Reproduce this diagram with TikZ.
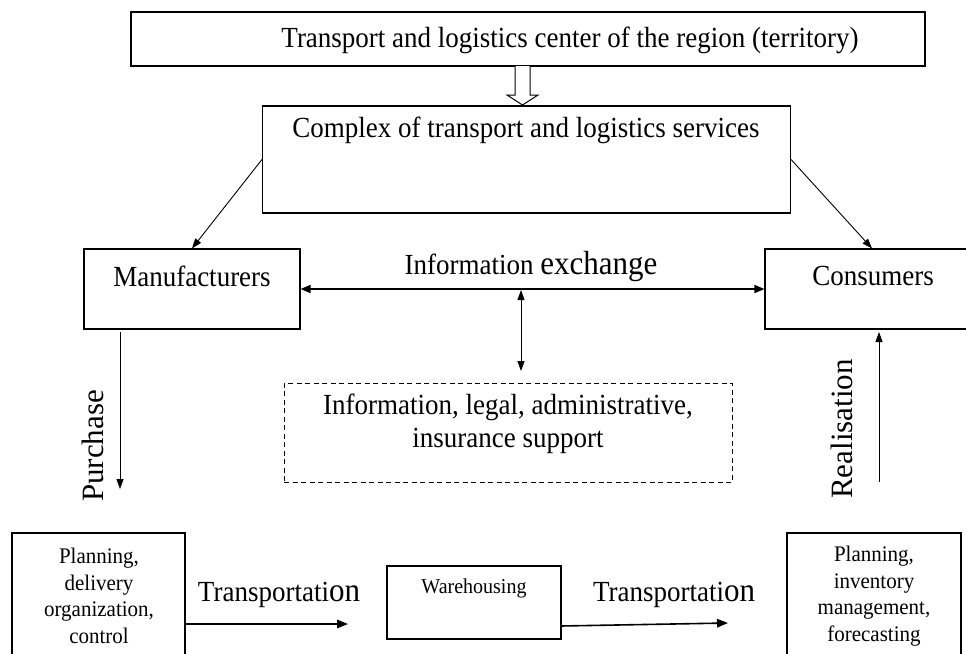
\documentclass[tikz,border=0pt]{standalone}
\usepackage{fontspec}
\setmainfont{Liberation Serif}
\usetikzlibrary{arrows.meta}
\begin{document}
\begin{tikzpicture}[x=1pt,y=-1pt,
  box/.style={draw, line width=1.1pt, inner sep=0pt, minimum width=#1},
  lbl/.style={inner sep=0pt, yscale=1.08, font=\fontsize{27}{30}\selectfont},
  small/.style={inner sep=0pt, align=center, yscale=1.06, font=\fontsize{21}{25}\selectfont},
  thin/.style={line width=0.9pt, -{Triangle[length=10pt,width=7pt]}},
  both/.style={line width=0.9pt, {Triangle[length=10pt,width=7pt]}-{Triangle[length=10pt,width=7pt]}},
  thick/.style={line width=1.6pt, -{Triangle[length=11pt,width=8.5pt]}}]
\useasboundingbox (0,0) rectangle (966,653);
% boxes
\node[box=794pt, minimum height=54pt] (top) at (528,39) {};
\node[box=528pt, minimum height=107pt] (cx) at (526.5,159.5) {};
\node[box=216pt, minimum height=80pt] (mfr) at (192,289) {};
\node[box=214pt, minimum height=80pt] (cons) at (872,289) {};
\node[box=448pt, minimum height=99pt, dashed, dash pattern=on 5pt off 3.5pt, line width=0.9pt] (sup) at (508,432.5) {};
\node[box=173pt, minimum height=182pt] (bl) at (98.5,624) {};
\node[box=174pt, minimum height=73pt] (wh) at (474,602.5) {};
\node[box=174pt, minimum height=182pt] (br) at (874,624) {};
% texts
\node[lbl] (ttop) at (570,40) {Transport and logistics center of the region (territory)};
\node[lbl] (tcx) at (526,130) {Complex of transport and logistics services};
\node[lbl] (tmfr) at (192,276) {Manufacturers};
\node[lbl] (tcons) at (873,276) {Consumers};
\node[lbl] (tinfo) at (531,266) {Information {\fontsize{31}{31}\selectfont exchange}};
\node[lbl, align=center, font=\fontsize{27}{30}\selectfont] (tsup) at (508,424) {Information, legal, administrative,\\insurance support};
\node[inner sep=0pt, rotate=90, font=\fontsize{31}{31}\selectfont] (tpur) at (93,446) {Purchase};
\node[inner sep=0pt, rotate=90, font=\fontsize{31}{31}\selectfont] (treal) at (842,429) {Realisation};
\node[small] (tbl) at (99,596) {Planning,\\delivery\\organization,\\control};
\node[small] (tbr) at (874,596) {Planning,\\inventory\\management,\\forecasting};
\node[inner sep=0pt, yscale=1.06, font=\fontsize{20}{20}\selectfont] (twh) at (474,588) {Warehousing};
\node[lbl] (tt1) at (279,595) {Transportati{\fontsize{31}{31}\selectfont on}};
\node[lbl] (tt2) at (674,595) {Transportati{\fontsize{31}{31}\selectfont on}};
% coordinates
\coordinate (ix) at (521,290);
\coordinate (ixe) at (521,371);
\coordinate (p1) at (120,332);
\coordinate (p2) at (120,489);
\coordinate (r1) at (879,482);
\coordinate (r2) at (879,332);
\coordinate (t1a) at (185,624);
\coordinate (t1b) at (348,624);
\coordinate (t2a) at (561,626);
\coordinate (t2b) at (728,623);
% hollow arrow
\draw[line width=1pt, fill=white] (515,66) -- (515,95) -- (507,95) -- (522.5,105) -- (538,95) -- (530,95) -- (530,66);
% connectors
\draw[thin] (cx.west) -- (mfr.north);
\draw[thin] (cx.east) -- (cons.north);
\draw[line width=1.6pt, {Triangle[length=10pt,width=8pt]}-{Triangle[length=10pt,width=8pt]}] (mfr.east) -- (cons.west);
\draw[both] (ix) -- (ixe);
\draw[thin] (p1) -- (p2);
\draw[thin] (r1) -- (r2);
\draw[thick] (t1a) -- (t1b);
\draw[thick] (t2a) -- (t2b);
\end{tikzpicture}
\end{document}
